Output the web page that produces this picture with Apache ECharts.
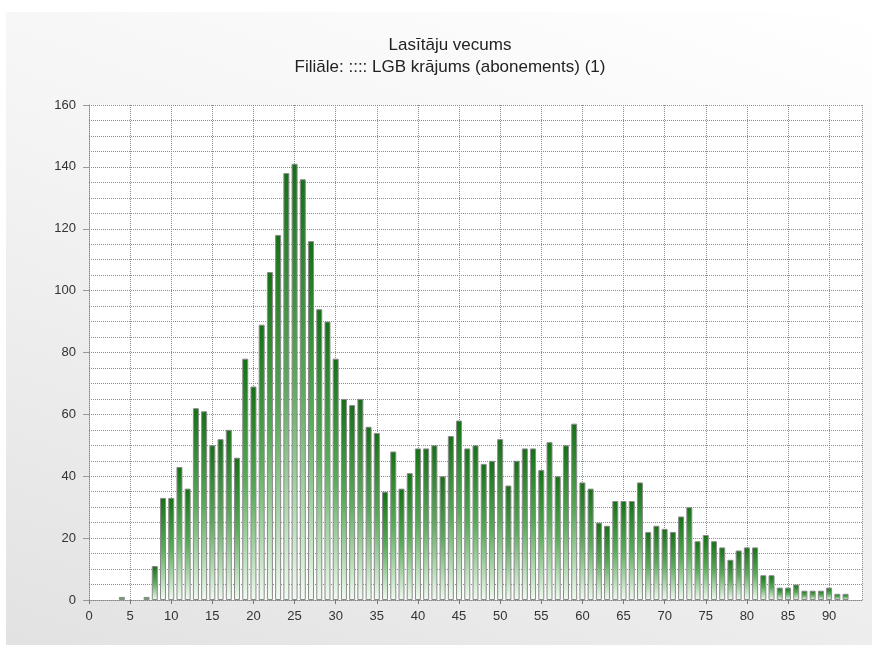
<!DOCTYPE html>
<html>
<head>
<meta charset="utf-8">
<script src="https://cdn.jsdelivr.net/npm/echarts@6/dist/echarts.min.js"></script>
<style>
  html, body { margin: 0; padding: 0; background: #fff; }
  .panel {
    position: absolute; left: 6px; top: 12px; width: 866px; height: 633px;
    background: linear-gradient(200deg, #ffffff 0%, #f4f4f4 45%, #e2e2e2 100%);
  }
  #chart { position: absolute; left: 0; top: 0; width: 875px; height: 645px; }
</style>
</head>
<body>
<div class="panel"></div>
<div id="chart"></div>
<script>
  // ages (x) and number of readers (y)
  var ages = [4, 7, 8, 9, 10, 11, 12, 13, 14, 15, 16, 17, 18, 19, 20, 21, 22, 23, 24, 25,
    26, 27, 28, 29, 30, 31, 32, 33, 34, 35, 36, 37, 38, 39, 40, 41, 42, 43, 44, 45,
    46, 47, 48, 49, 50, 51, 52, 53, 54, 55, 56, 57, 58, 59, 60, 61, 62, 63, 64, 65,
    66, 67, 68, 69, 70, 71, 72, 73, 74, 75, 76, 77, 78, 79, 80, 81, 82, 83, 84, 85,
    86, 87, 88, 89, 90, 91, 92];
  var counts = [1, 1, 11, 33, 33, 43, 36, 62, 61, 50, 52, 55, 46, 78, 69, 89, 106, 118, 138, 141,
    136, 116, 94, 90, 78, 65, 63, 65, 56, 54, 35, 48, 36, 41, 49, 49, 50, 40, 53, 58,
    49, 50, 44, 45, 52, 37, 45, 49, 49, 42, 51, 40, 50, 57, 38, 36, 25, 24, 32, 32,
    32, 38, 22, 24, 23, 22, 27, 30, 19, 21, 19, 17, 13, 16, 17, 17, 8, 8, 4, 4,
    5, 3, 3, 3, 4, 2, 2];
  var titleText = 'Lasītāju vecums\nFiliāle: :::: LGB krājums (abonements) (1)';

  var chart = echarts.init(document.getElementById('chart'));
  var points = ages.map(function (a, i) { return [a, counts[i]]; });

  chart.setOption({
    backgroundColor: 'transparent',
    animation: false,
    title: {
      text: titleText,
      left: 445,
      top: 29,
      textAlign: 'center',
      textStyle: {
        fontFamily: 'Liberation Sans',
        fontSize: 17,
        fontWeight: 'normal',
        color: '#222',
        lineHeight: 22
      }
    },
    grid: {
      left: 89, right: 13, top: 105, bottom: 45,
      show: true, backgroundColor: '#fff', borderWidth: 0
    },
    xAxis: {
      type: 'value',
      min: 0,
      max: 94,
      interval: 5,
      axisLine: { show: true, lineStyle: { color: '#888', type: 'dotted' } },
      axisTick: { show: true, length: 4, lineStyle: { color: '#777' } },
      axisLabel: {
        showMaxLabel: false,
        color: '#333',
        fontFamily: 'Liberation Sans',
        fontSize: 13,
        margin: 10
      },
      splitLine: { show: true, lineStyle: { color: '#8c8c8c', type: 'dotted' } }
    },
    yAxis: {
      type: 'value',
      min: 0,
      max: 160,
      interval: 20,
      axisLine: { show: true, lineStyle: { color: '#888', type: 'dotted' } },
      axisTick: { show: true, length: 6, lineStyle: { color: '#999' } },
      minorTick: { show: false, splitNumber: 4 },
      axisLabel: {
        color: '#333',
        fontFamily: 'Liberation Sans',
        fontSize: 13,
        margin: 13
      },
      splitLine: { show: true, lineStyle: { color: '#8c8c8c', type: 'dotted' } },
      minorSplitLine: { show: true, lineStyle: { color: '#8c8c8c', type: 'dotted' } }
    },
    series: [{
      type: 'bar',
      data: points,
      barWidth: 6,
      itemStyle: {
        borderColor: '#8a8a8a',
        borderWidth: 1,
        color: new echarts.graphic.LinearGradient(0, 0, 0, 1, [
          { offset: 0, color: '#157015' },
          { offset: 0.5, color: '#5aab5a' },
          { offset: 1, color: '#f2fbf2' }
        ])
      }
    }]
  });
</script>
</body>
</html>
